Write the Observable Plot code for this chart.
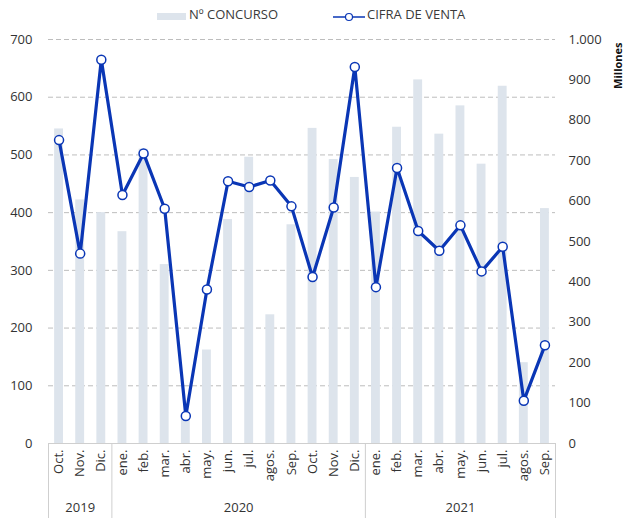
<!DOCTYPE html>
<html><head><meta charset="utf-8">
<script src="https://cdn.jsdelivr.net/npm/d3@7"></script>
<script src="https://cdn.jsdelivr.net/npm/@observablehq/plot@0.6"></script>
<style>
body{margin:0;background:#fff;font-family:"Open Sans",sans-serif;}
#legend{position:relative;height:28px;width:625px;}
.lab{position:absolute;top:8px;font-size:13px;line-height:13px;color:#3a3a3a;white-space:nowrap;}
#chart svg{display:block;}
</style></head><body>
<div id="legend">
  <div style="position:absolute;left:157px;top:13px;width:29px;height:7px;background:#dde4ec;"></div>
  <div class="lab" style="left:189px;">Nº CONCURSO</div>
  <svg style="position:absolute;left:333px;top:10px;" width="32" height="14"><line x1="0" y1="7" x2="32" y2="7" stroke="#0a36b5" stroke-width="1.5"/><circle cx="16" cy="7" r="3.5" fill="#fff" stroke="#0a36b5" stroke-width="1.2"/></svg>
  <div class="lab" style="left:367px;">CIFRA DE VENTA</div>
</div>
<div id="chart"></div>
<script>
const months = ["Oct.","Nov.","Dic.","ene.","feb.","mar.","abr.","may.","jun.","jul.","agos.","Sep.","Oct.","Nov.","Dic.","ene.","feb.","mar.","abr.","may.","jun.","jul.","agos.","Sep."];
const years = ["2019","2019","2019","2020","2020","2020","2020","2020","2020","2020","2020","2020","2020","2020","2020","2021","2021","2021","2021","2021","2021","2021","2021","2021"];
const concursos = [545,422,400,367,510,310,52,162,388,496,223,379,546,492,461,401,548,630,536,585,484,619,140,407];
const ventas = [751,470,950,615,718,581,68,381,649,635,651,587,412,584,932,387,682,526,477,540,426,487,106,243];
const leftTicks = [0,100,200,300,400,500,600,700];
const rightTicks = [0,100,200,300,400,500,600,700,800,900,1000];
const yearNames = ["2019","2020","2021"];

const ratio = 0.7; // right axis 1000 = left axis 700
const data = months.map((m,i)=>({i, m, year: years[i], c: concursos[i], v: ventas[i]}));
const groups = yearNames.map(y=>{
  const idx = data.filter(d=>d.year===y).map(d=>d.i);
  return {year:y, start:d3.min(idx)-0.5, end:d3.max(idx)+0.5};
});
const seps = [groups[0].start, ...groups.map(g=>g.end)];

const W=625, H=490, mT=11, mB=75, mL=48, mR=70;
const pxPerUnit = (H-mT-mB)/700;
const below = -mB/pxPerUnit;
const fmt = d3.formatLocale({decimal:",",thousands:".",grouping:[3],currency:["",""]}).format(",");
const blue = "#0a36b5";
const font = "'Open Sans', sans-serif";

const chart = Plot.plot({
  width: W, height: H,
  marginTop: mT, marginBottom: mB, marginLeft: mL, marginRight: mR,
  style: {fontFamily: font, fontSize: "13px", color: "#333", background: "#fff"},
  x: {type:"linear", domain:[-0.5, months.length-0.5], axis:null},
  y: {domain:[0,700], axis:null},
  marks: [
    Plot.ruleY(leftTicks.filter(d=>d>0), {x1:-0.5, x2:months.length-0.5, stroke:"#bdbdbd", strokeDasharray:"5,3", strokeWidth:1}),
    Plot.rectY(data, {x1:d=>d.i-0.21, x2:d=>d.i+0.21, y1:0, y2:"c", fill:"#dde4ec"}),
    Plot.ruleY([0], {x1:-0.5, x2:months.length-0.5, stroke:"#cfcfcf"}),
    Plot.ruleX(seps, {y1:0, y2:below, stroke:"#cfcfcf"}),
    Plot.axisY(leftTicks, {anchor:"left", label:null, tickSize:0, tickPadding:16, tickFormat:d=>String(d), fontSize:13}),
    Plot.axisY(rightTicks.map(d=>d*ratio), {anchor:"right", label:null, tickSize:0, tickPadding:13, tickFormat:d=>fmt(Math.round(d/ratio)), fontSize:13}),
    Plot.line(data, {x:"i", y:d=>d.v*ratio, stroke:blue, strokeWidth:3.2}),
    Plot.dot(data, {x:"i", y:d=>d.v*ratio, r:4.5, fill:"white", stroke:blue, strokeWidth:1.5}),
    Plot.text(data, {x:"i", y:0, text:"m", rotate:-90, textAnchor:"end", dy:6, fontSize:13, fill:"#333"}),
    Plot.text(groups, {x:d=>(d.start+d.end)/2, y:0, text:"year", dy:64, fontSize:13, fill:"#333"}),
    Plot.text(["Millones"], {frameAnchor:"top-right", text:d=>d, rotate:-90, textAnchor:"end", dx:59, dy:3, fontSize:11, fontWeight:"bold", fill:"#111"})
  ]
});
document.getElementById("chart").appendChild(chart);
</script>
</body></html>
